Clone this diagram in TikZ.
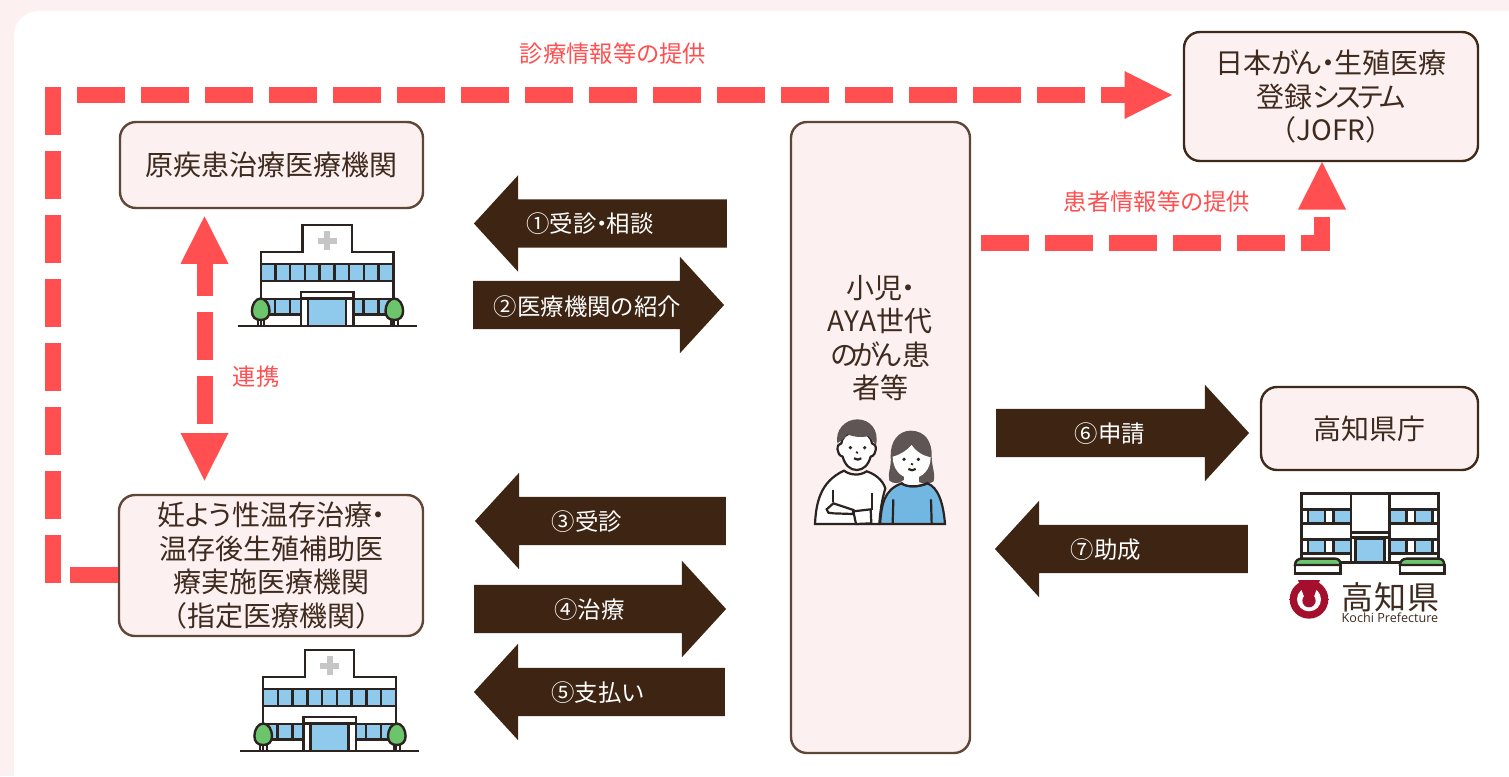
\documentclass[tikz,border=0pt]{standalone}
\usepackage{fontspec}
\setmainfont{Noto Sans CJK JP}
\newfontfamily\latinlogo{Open Sans}
\usetikzlibrary{arrows.meta,shapes.arrows,calc}
\definecolor{bgpink}{HTML}{FDF0F0}
\definecolor{boxline}{HTML}{5F4636}
\definecolor{boxdark}{HTML}{3F2A1A}
\definecolor{brownfill}{HTML}{3E2412}
\definecolor{textbrown}{HTML}{3E2A1E}
\definecolor{redline}{HTML}{FF4F50}
\definecolor{winblue}{HTML}{8FC9EB}
\definecolor{treegreen}{HTML}{6CC56C}
\definecolor{hairgray}{HTML}{5E5554}
\definecolor{shirtblue}{HTML}{72B6E2}
\definecolor{kochired}{HTML}{A30F2D}
\definecolor{inkline}{HTML}{2B2320}
\newcommand{\nkg}{\makebox[0.42em][c]{・}}
\newcommand{\shaft}{\rule{0pt}{48pt}}
\tikzset{
  x=1pt,y=-1pt,
  infobox/.style={draw=boxline,line width=2.4pt,fill=bgpink,rounded corners=16pt,inner sep=0pt,align=center,text=textbrown,font=\fontsize{28}{33.7}\selectfont},
  darkbox/.style={infobox,draw=boxdark},
  rightarrow/.style={single arrow,fill=brownfill,inner sep=0pt,minimum width=96pt,single arrow head extend=24pt,single arrow tip angle=95,shape border rotate=0},
  leftarrow/.style={rightarrow,shape border rotate=180},
  arrowtext/.style={text=white,font=\fontsize{23.4}{28}\selectfont,inner sep=0pt},
  redtext/.style={text=redline,font=\fontsize{23.3}{28}\selectfont,inner sep=0pt},
  redflow/.style={draw=redline,line width=16pt,dash pattern=on 48pt off 16pt,line join=miter},
  redtip/.tip={Triangle[width=48pt,length=47.5pt,line width=0pt,fill=redline]},
  redhead/.style={-redtip},
  ink/.style={draw=inkline,line width=2.4pt},
  hospital/.pic={
    \fill[white] (302.3,225) rectangle (351.7,252);
    \fill[white] (260.7,252) rectangle (393.3,326);
    \draw[ink] (260.7,326) -- (260.7,252) -- (302.3,252) -- (302.3,225) -- (351.7,225) -- (351.7,252) -- (393.3,252) -- (393.3,326);
    \fill[gray!45] (324,231) rectangle (330,250);
    \fill[gray!45] (317.5,237.7) rectangle (336.5,243.7);
    \draw[ink,fill=winblue] (260.7,264) rectangle (393.3,281);
    \foreach \k in {1,...,8} {\draw[ink] ({260.7+14.73*\k},264) -- ({260.7+14.73*\k},281);}
    \draw[ink,fill=winblue] (260.7,299) rectangle (393.3,314.3);
    \foreach \k in {275,290,363.3,378.3} {\draw[ink] (\k,299) -- (\k,314.3);}
    \draw[ink,fill=white] (301,326) -- (301,291.7) -- (353.3,291.7) -- (353.3,326);
    \draw[ink] (301,298.3) -- (353.3,298.3);
    \draw[ink,fill=winblue] (308,326) -- (308,299) -- (346,299) -- (346,326);
    \draw[ink,line width=2pt] (257.5,318) -- (257.5,326) (264,318) -- (264,326);
    \draw[ink,line width=2pt] (391,318) -- (391,326) (397.5,318) -- (397.5,326);
    \draw[ink,fill=treegreen] (260.7,298.5) .. controls (266,298.5) and (269.5,305) .. (269.5,311) .. controls (269.5,317) and (266,320) .. (260.7,320) .. controls (255.4,320) and (251.9,317) .. (251.9,311) .. controls (251.9,305) and (255.4,298.5) .. (260.7,298.5) -- cycle;
    \draw[ink,fill=treegreen] (394.3,298.5) .. controls (399.6,298.5) and (403.1,305) .. (403.1,311) .. controls (403.1,317) and (399.6,320) .. (394.3,320) .. controls (389,320) and (385.5,317) .. (385.5,311) .. controls (385.5,305) and (389,298.5) .. (394.3,298.5) -- cycle;
    \draw[ink] (237.7,326) -- (416.7,326);
  }
}
\begin{document}
\begin{tikzpicture}
\useasboundingbox (0,0) rectangle (1509,776);
% background panel
\fill[bgpink] (0,0) rectangle (1509,776);
\fill[white] (14,776) -- (14,36) .. controls (14,22) and (25,11) .. (39,11) -- (1509,11) -- (1509,776) -- cycle;

% boxes
\node[infobox,minimum width=303pt,minimum height=86pt] (origin) at (271.5,165) {原疾患治療医療機関};
\node[infobox,minimum width=304pt,minimum height=141pt] (fert) at (271,565.5) {妊\kern-2pt よ\kern-5pt う\kern-2pt 性温存治療\nkg\\温存後生殖補助医\\療実施医療機関\\（指定医療機関）};
\node[infobox,minimum width=179pt,minimum height=631pt] (patient) at (880.5,437.5) {};
\node[text=textbrown,font=\fontsize{28}{33.4}\selectfont,align=center,inner sep=0pt] (patienttext) at (880,338) {小児\nkg\\AYA世代\\の\kern-6pt が\kern-6pt ん患\\者等};
\node[darkbox,minimum width=294pt,minimum height=129pt] (jofr) at (1331,96.5) {日本が\kern-5pt ん\nkg 生殖医療\\登録シ\kern-6pt ス\kern-6pt テ\kern-6pt ム\\（JOFR）};
\node[darkbox,minimum width=217pt,minimum height=83pt] (pref) at (1369.5,428.5) {高知県庁};

% red connectors
\coordinate (cornerA) at (52.7,574.6);
\coordinate (cornerAlow) at (52.7,582.6);
\coordinate (cornerB) at (52.7,95);
\coordinate (topTip) at (1172,95);
\coordinate (liaisonTop) at (204.5,216.3);
\coordinate (liaisonBottom) at (204.5,480.5);
\coordinate (patientOut) at (980.7,243.3);
\coordinate (jofrIn) at (1322,162);
\draw[redflow,dash pattern=on 48pt off 30pt] (fert.west |- cornerA) -- (cornerA);
\draw[redflow,redhead] (cornerAlow) -- (cornerB) -- (topTip);
\draw[redflow,redhead] (patientOut) -| (jofrIn);
\draw[redflow,dash phase=16pt,redtip-redtip] (liaisonTop) -- (liaisonBottom);

% red labels
\node[redtext] (l1) at (613,54) {診療情報等の提供};
\node[redtext] (l2) at (1157,202) {患者情報等の提供};
\node[redtext] (l3) at (256,377) {連携};

% brown arrows
\node[leftarrow,minimum height=253pt] (a1) at (611.5,223.5) {\shaft};
\node[rightarrow,minimum height=251pt] (a2) at (587.5,305) {\shaft};
\node[leftarrow,minimum height=251pt] (a3) at (611.5,521) {\shaft};
\node[rightarrow,minimum height=252pt] (a4) at (589,609) {\shaft};
\node[leftarrow,minimum height=251pt] (a5) at (610.5,692) {\shaft};
\node[rightarrow,minimum height=253pt] (a6) at (1111.5,433) {\shaft};
\node[leftarrow,minimum height=253pt] (a7) at (1132.5,549) {\shaft};
\node[arrowtext] (t1) at (590,224) {①受診\nkg 相談};
\node[arrowtext] (t2) at (587.5,307) {②医療機関の紹介};
\node[arrowtext] (t3) at (587,522) {③受診};
\node[arrowtext] (t4) at (589.5,610) {④治療};
\node[arrowtext] (t5) at (598,693) {⑤支払い};
\node[arrowtext] (t6) at (1110,434) {⑥申請};
\node[arrowtext] (t7) at (1106,550) {⑦助成};

% hospitals
\pic at (0,0) {hospital};
\pic at (2.5,425) {hospital};

% people
\begin{scope}[shift={(800,410)},scale=1/3]
  \tikzset{pl/.style={draw=inkline,line width=2.2pt}}
  % man
  \draw[pl,fill=white] (45,342) .. controls (48,280) and (60,215) .. (132,182) .. controls (150,196) and (180,198) .. (200,184) .. controls (225,192) and (248,210) .. (256,235) .. controls (245,270) and (240,310) .. (238,342) -- cycle;
  \draw[pl] (100,240) -- (100,275);
  \draw[pl] (216,250) -- (216,300);
  \draw[pl,fill=white] (80,298) -- (100,280) -- (160,300) -- (158,312) -- (100,310) -- (85,308) -- cycle;
  \draw[pl,fill=white] (160,304) -- (212,298) -- (214,340) -- (168,342) -- cycle;
  \draw[pl,fill=white] (170,68) .. controls (205,68) and (214,85) .. (216,100) .. controls (232,100) and (232,135) .. (212,140) .. controls (205,165) and (190,180) .. (170,180) .. controls (150,180) and (135,165) .. (128,140) .. controls (108,135) and (108,100) .. (124,100) .. controls (126,85) and (135,68) .. (170,68) -- cycle;
  \fill[hairgray] (112,100) .. controls (105,60) and (135,28) .. (172,28) .. controls (210,28) and (238,60) .. (228,105) .. controls (222,95) and (212,88) .. (205,78) .. controls (180,85) and (150,78) .. (142,72) .. controls (135,85) and (122,92) .. (112,100) -- cycle;
  \fill[inkline] (151,113) circle (5.5) (194,113) circle (5.5);
  \draw[pl] (172,125) -- (170,130);
  \draw[pl] (162,145) .. controls (170,150) and (178,150) .. (184,145);
  % woman
  \fill[hairgray] (332,62) .. controls (375,62) and (397,95) .. (395,140) .. controls (395,170) and (408,195) .. (400,215) .. controls (385,225) and (360,222) .. (350,210) -- (310,210) .. controls (300,222) and (280,222) .. (268,212) .. controls (262,190) and (275,170) .. (272,140) .. controls (270,95) and (295,62) .. (332,62) -- cycle;
  \draw[pl,fill=shirtblue] (240,342) .. controls (245,285) and (250,240) .. (305,220) .. controls (320,232) and (355,232) .. (382,220) .. controls (415,232) and (430,280) .. (435,342) -- cycle;
  \draw[pl] (280,268) -- (278,340) (393,268) -- (395,340);
  \fill[white] (312,190) rectangle (358,224);
  \draw[pl] (305,220) .. controls (320,232) and (355,232) .. (382,220);
  \fill[white] (335,105) .. controls (322,120) and (300,135) .. (278,140) .. controls (278,175) and (300,205) .. (335,205) .. controls (370,205) and (392,175) .. (392,142) .. controls (370,138) and (348,125) .. (335,105) -- cycle;
  \fill[inkline] (312,148) circle (5.5) (355,148) circle (5.5);
  \draw[pl] (337,160) -- (335,165);
  \draw[pl] (325,177) .. controls (332,182) and (340,182) .. (347,177);
\end{scope}

% prefectural office and logo
\begin{scope}[shift={(1270,480)},scale=1/3]
  \fill[white] (95,40) rectangle (505,248);
  \foreach \yy in {88,178} {
    \fill[winblue] (118,\yy) rectangle (163,\yy+42);
    \fill[winblue] (193,\yy) rectangle (240,\yy+42);
    \fill[winblue] (362,\yy) rectangle (408,\yy+42);
    \fill[winblue] (437,\yy) rectangle (485,\yy+42);
    \draw[ink] (95,\yy) -- (243,\yy) (95,\yy+43) -- (243,\yy+43) (358,\yy) -- (505,\yy) (358,\yy+43) -- (505,\yy+43);
    \draw[ink] (114,\yy) -- (114,\yy+43) (165,\yy) -- (165,\yy+43) (190,\yy) -- (190,\yy+43) (410,\yy) -- (410,\yy+43) (435,\yy) -- (435,\yy+43) (487,\yy) -- (487,\yy+43);
  }
  \draw[ink] (95,248) -- (95,40) -- (505,40) -- (505,248);
  \draw[ink] (243,40) -- (243,248) (358,40) -- (358,248);
  \draw[ink] (243,157) -- (358,157) (243,172) -- (358,172);
  \draw[ink,fill=winblue] (256,248) -- (256,176) -- (344,176) -- (344,248);
  \draw[ink] (210,248) -- (390,248);
  \draw[ink,fill=white] (75,255) rectangle (212,281);
  \draw[ink,fill=treegreen] (75,255) .. controls (75,242) and (85,236) .. (95,236) -- (195,236) .. controls (205,236) and (212,242) .. (212,255) -- cycle;
  \draw[ink,fill=white] (390,255) rectangle (523,281);
  \draw[ink,fill=treegreen] (390,255) .. controls (390,242) and (400,236) .. (410,236) -- (505,236) .. controls (515,236) and (523,242) .. (523,255) -- cycle;
  % crest
  \fill[kochired] (117,358) circle (58);
  \fill[kochired] (58,356) rectangle (176,360);
  \fill[white] (117,358) circle (36);
  \fill[kochired] (117,362) circle (20);
  \fill[kochired] (84,300) -- (150,300) -- (131,352) -- (103,352) -- cycle;
\end{scope}
\node[text=textbrown,font=\fontsize{32}{36}\selectfont,inner sep=0pt] (logotext) at (1390,597) {高\kern1pt 知\kern1pt 県};
\node[text=textbrown,font=\fontsize{12.6}{14}\latinlogo,inner sep=0pt] (logolatin) at (1390,618) {Kochi Prefecture};
\end{tikzpicture}
\end{document}
